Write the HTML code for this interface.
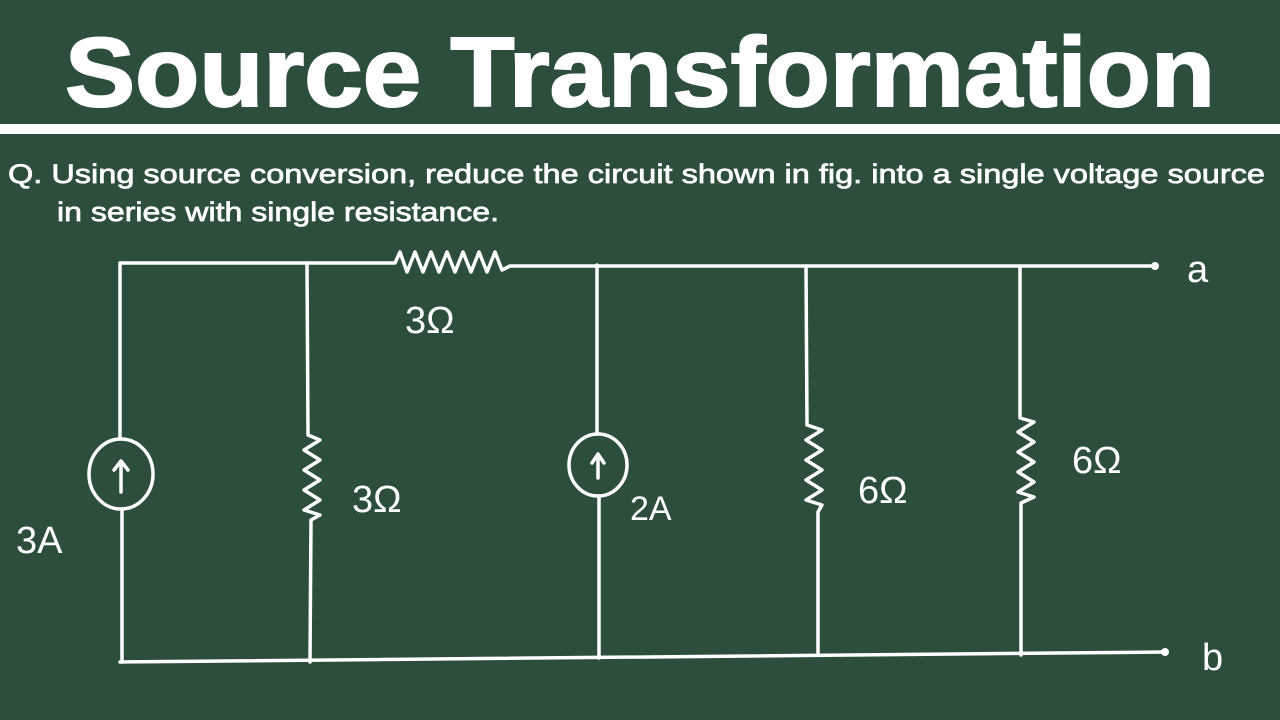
<!DOCTYPE html>
<html><head><meta charset="utf-8"><style>
html,body{margin:0;padding:0;background:#2d4e3b;}
svg{display:block}
</style></head><body>
<svg width="1280" height="720" viewBox="0 0 1280 720" xmlns="http://www.w3.org/2000/svg">
<rect width="1280" height="720" fill="#2d4e3b"/>
<text x="640" y="106" text-anchor="middle" font-family="Liberation Sans, sans-serif" font-weight="bold" font-size="98" fill="#fff" stroke="#fff" stroke-width="2" textLength="1150" lengthAdjust="spacingAndGlyphs">Source Transformation</text>
<rect x="0" y="124" width="1280" height="10" fill="#fff"/>
<text x="8" y="183" font-family="Liberation Sans, sans-serif" font-size="27" fill="#fff" stroke="#fff" stroke-width="0.7" textLength="1257" lengthAdjust="spacingAndGlyphs">Q. Using source conversion, reduce the circuit shown in fig. into a single voltage source</text>
<text x="57" y="221" font-family="Liberation Sans, sans-serif" font-size="27" fill="#fff" stroke="#fff" stroke-width="0.7" textLength="442" lengthAdjust="spacingAndGlyphs">in series with single resistance.</text>
<g stroke="#fff" stroke-width="3.5" fill="none" stroke-linecap="round" stroke-linejoin="round">
<polyline points="120,263 395,263 400,252 407,272 415,252 423,272 431,252 439,272 447,252 455,272 463,252 471,272 479,252 487,272 495,252 502,270 510,266 1155,266"/>
<line x1="120" y1="662" x2="1165" y2="652"/>
<line x1="120" y1="263" x2="120" y2="439"/>
<ellipse cx="121" cy="474" rx="32" ry="35"/>
<line x1="122" y1="509" x2="122" y2="662"/>
<line x1="121" y1="492" x2="121" y2="462"/><polyline points="114,470 121,461 128,470"/>
<polyline points="307,263 308,435 320,440 304,450 320,460 304,470 320,480 304,490 320,500 304,510 320,515 311,520 310,662"/>
<line x1="597" y1="265" x2="597" y2="434"/>
<ellipse cx="598" cy="465" rx="29" ry="31"/>
<line x1="599" y1="496" x2="599" y2="658"/>
<line x1="598" y1="478" x2="598" y2="455"/><polyline points="592,463 598,454 604,463"/>
<polyline points="806,266 807,425 822,430 806,440 822,450 806,460 822,470 806,480 822,490 806,500 822,505 818,512 818,655"/>
<polyline points="1020,266 1020,418 1034,422 1018,432 1034,442 1018,452 1034,462 1018,472 1034,482 1018,492 1034,497 1021,503 1021,655"/>
</g>
<circle cx="1155" cy="266" r="4" fill="#fff"/>
<circle cx="1165" cy="652" r="4" fill="#fff"/>
<g font-family="Liberation Sans, sans-serif" font-size="38" fill="#fff">
<text x="1187" y="282">a</text>
<text x="1202" y="670">b</text>
<text x="16" y="553">3A</text>
<text x="405" y="333">3Ω</text>
<text x="352" y="512">3Ω</text>
<text x="630" y="520" font-size="34">2A</text>
<text x="858" y="503">6Ω</text>
<text x="1072" y="473">6Ω</text>
</g>
</svg>
</body></html>
